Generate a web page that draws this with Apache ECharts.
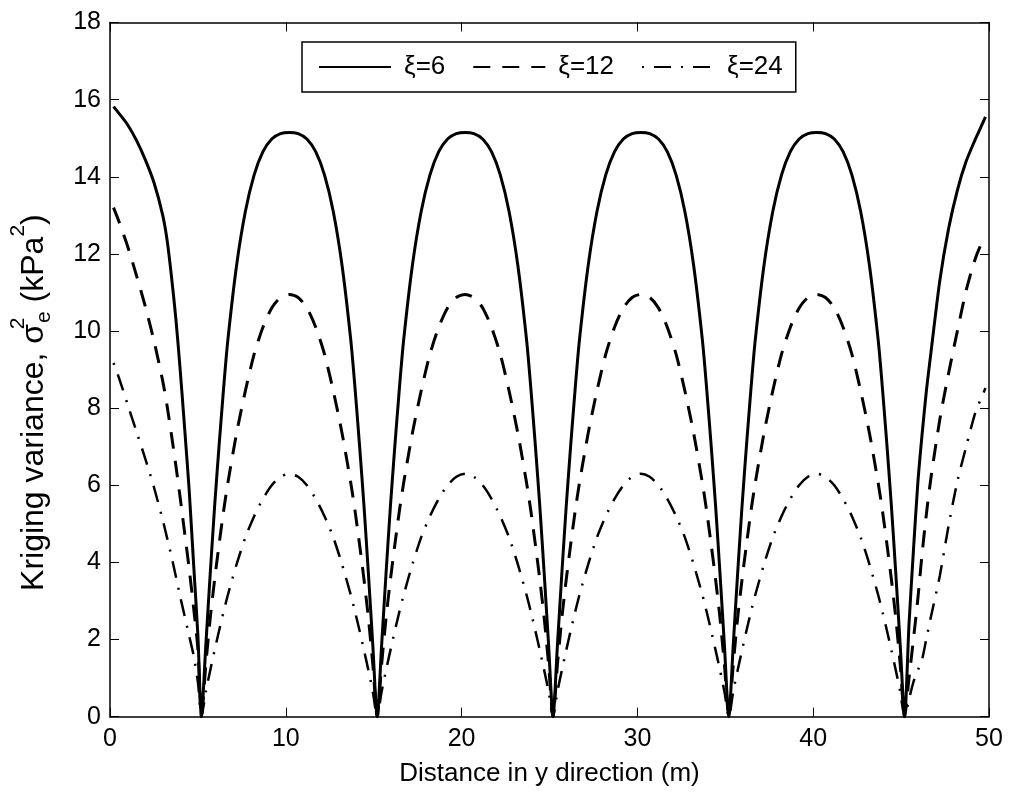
<!DOCTYPE html>
<html>
<head>
<meta charset="utf-8">
<title>Kriging variance</title>
<script src="https://cdn.jsdelivr.net/npm/echarts@6/dist/echarts.min.js"></script>
<style>
  html, body { margin: 0; padding: 0; background: #fff; }
  #chart { width: 1011px; height: 793px; }
</style>
</head>
<body>
<div id="chart"></div>
<script>
// distance in y direction (m)
var distance = [
  0.2, 0.5, 1, 1.5, 2, 2.5, 3, 3.25, 3.5, 3.75, 4, 4.25, 4.5, 4.75, 5, 5.2,
  5.45, 5.7, 5.95, 6.2, 6.45, 6.7, 7.2, 7.7, 8.2, 8.7, 9.2, 9.7, 10.2, 10.7, 11.2, 11.7, 12.2, 12.7, 13.2, 13.7, 13.95, 14.2, 14.45, 14.7, 14.95, 15.2,
  15.45, 15.7, 15.95, 16.2, 16.45, 16.7, 17.2, 17.7, 18.2, 18.7, 19.2, 19.7, 20.2, 20.7, 21.2, 21.7, 22.2, 22.7, 23.2, 23.7, 23.95, 24.2, 24.45, 24.7, 24.95, 25.2,
  25.45, 25.7, 25.95, 26.2, 26.45, 26.7, 27.2, 27.7, 28.2, 28.7, 29.2, 29.7, 30.2, 30.7, 31.2, 31.7, 32.2, 32.7, 33.2, 33.7, 33.95, 34.2, 34.45, 34.7, 34.95, 35.2,
  35.45, 35.7, 35.95, 36.2, 36.45, 36.7, 37.2, 37.7, 38.2, 38.7, 39.2, 39.7, 40.2, 40.7, 41.2, 41.7, 42.2, 42.7, 43.2, 43.7, 43.95, 44.2, 44.45, 44.7, 44.95, 45.2,
  45.45, 45.7, 45.95, 46.2, 46.45, 46.7, 47.2, 47.7, 48.2, 48.7, 49.2, 49.5, 49.8
]

// kriging variance for xi = 6
var var6 = [
  15.82, 15.65, 15.35, 14.95, 14.45, 13.85, 13.0, 12.35, 11.4, 10.3, 8.95, 7.45, 5.9, 4.0, 2.1, 0,
  1.85, 3.7, 5.45, 7.0, 8.45, 9.75, 11.7, 13.1, 14.05, 14.65, 14.98, 15.12, 15.15, 15.12, 14.98, 14.65, 14.05, 13.1, 11.7, 9.75, 8.45, 7.0, 5.45, 3.7, 1.85, 0,
  1.85, 3.7, 5.45, 7.0, 8.45, 9.75, 11.7, 13.1, 14.05, 14.65, 14.98, 15.12, 15.15, 15.12, 14.98, 14.65, 14.05, 13.1, 11.7, 9.75, 8.45, 7.0, 5.45, 3.7, 1.85, 0,
  1.85, 3.7, 5.45, 7.0, 8.45, 9.75, 11.7, 13.1, 14.05, 14.65, 14.98, 15.12, 15.15, 15.12, 14.98, 14.65, 14.05, 13.1, 11.7, 9.75, 8.45, 7.0, 5.45, 3.7, 1.85, 0,
  1.85, 3.7, 5.45, 7.0, 8.45, 9.75, 11.7, 13.1, 14.05, 14.65, 14.98, 15.12, 15.15, 15.12, 14.98, 14.65, 14.05, 13.1, 11.7, 9.75, 8.45, 7.0, 5.45, 3.7, 1.85, 0,
  2.4, 4.3, 6.05, 7.35, 8.5, 9.45, 11.3, 12.65, 13.65, 14.4, 14.95, 15.25, 15.55
]

// kriging variance for xi = 12
var var12 = [
  13.2, 12.85, 12.2, 11.45, 10.65, 9.75, 8.7, 8.05, 7.3, 6.5, 5.65, 4.75, 3.85, 2.85, 1.75, 0,
  1.35, 2.55, 3.55, 4.45, 5.3, 6.05, 7.35, 8.45, 9.4, 10.1, 10.6, 10.87, 10.95, 10.87, 10.6, 10.1, 9.4, 8.45, 7.35, 6.05, 5.3, 4.45, 3.55, 2.55, 1.35, 0,
  1.35, 2.55, 3.55, 4.45, 5.3, 6.05, 7.35, 8.45, 9.4, 10.1, 10.6, 10.87, 10.95, 10.87, 10.6, 10.1, 9.4, 8.45, 7.35, 6.05, 5.3, 4.45, 3.55, 2.55, 1.35, 0,
  1.35, 2.55, 3.55, 4.45, 5.3, 6.05, 7.35, 8.45, 9.4, 10.1, 10.6, 10.87, 10.95, 10.87, 10.6, 10.1, 9.4, 8.45, 7.35, 6.05, 5.3, 4.45, 3.55, 2.55, 1.35, 0,
  1.35, 2.55, 3.55, 4.45, 5.3, 6.05, 7.35, 8.45, 9.4, 10.1, 10.6, 10.87, 10.95, 10.87, 10.6, 10.1, 9.4, 8.45, 7.35, 6.05, 5.3, 4.45, 3.55, 2.55, 1.35, 0,
  1.0, 2.0, 3.05, 4.25, 5.3, 6.2, 7.7, 8.9, 10.0, 11.05, 11.85, 12.2, 12.45
]

// kriging variance for xi = 24
var var24 = [
  9.17, 8.8, 8.1, 7.4, 6.7, 5.95, 5.1, 4.63, 4.15, 3.63, 3.1, 2.6, 2.1, 1.6, 0.9, 0,
  0.65, 1.2, 1.72, 2.22, 2.7, 3.15, 3.95, 4.65, 5.2, 5.65, 6.0, 6.22, 6.3, 6.22, 6.0, 5.65, 5.2, 4.65, 3.95, 3.15, 2.7, 2.22, 1.72, 1.2, 0.65, 0,
  0.65, 1.2, 1.72, 2.22, 2.7, 3.15, 3.95, 4.65, 5.2, 5.65, 6.0, 6.22, 6.3, 6.22, 6.0, 5.65, 5.2, 4.65, 3.95, 3.15, 2.7, 2.22, 1.72, 1.2, 0.65, 0,
  0.65, 1.2, 1.72, 2.22, 2.7, 3.15, 3.95, 4.65, 5.2, 5.65, 6.0, 6.22, 6.3, 6.22, 6.0, 5.65, 5.2, 4.65, 3.95, 3.15, 2.7, 2.22, 1.72, 1.2, 0.65, 0,
  0.65, 1.2, 1.72, 2.22, 2.7, 3.15, 3.95, 4.65, 5.2, 5.65, 6.0, 6.22, 6.3, 6.22, 6.0, 5.65, 5.2, 4.65, 3.95, 3.15, 2.7, 2.22, 1.72, 1.2, 0.65, 0,
  0.45, 0.9, 1.2, 1.5, 2.05, 2.6, 3.65, 4.95, 6.1, 7.0, 7.85, 8.2, 8.52
]

var seriesNames = ['ξ=6', 'ξ=12', 'ξ=24']

function pairs(ys) {
  return distance.map(function (x, i) { return [x, ys[i]] })
}

var font = 'Liberation Sans, Arial, Helvetica, sans-serif'

function frameAxis(extra) {
  var a = {
    axisLine: { show: true, onZero: false, lineStyle: { color: '#000', width: 1.5 } },
    axisTick: { show: true, inside: true, length: 9, lineStyle: { color: '#000', width: 1 } },
    splitLine: { show: false }
  }
  for (var k in extra) a[k] = extra[k]
  return a
}

var chart = echarts.init(document.getElementById('chart'))

chart.setOption({
  animation: false,
  backgroundColor: '#fff',
  textStyle: { fontFamily: font, color: '#000' },
  grid: { left: 109, right: 22, top: 22.5, bottom: 76.3 },
  legend: {
    data: seriesNames,
    left: 302,
    top: 42,
    orient: 'horizontal',
    itemWidth: 72,
    itemHeight: 14,
    itemGap: 27,
    padding: [12, 13, 12, 16],
    borderColor: '#000',
    borderWidth: 1.5,
    borderRadius: 0,
    backgroundColor: '#fff',
    itemStyle: { opacity: 0 },
    textStyle: { fontFamily: font, fontSize: 26, color: '#000', padding: [0, 0, 0, 8] }
  },
  xAxis: [frameAxis({
    type: 'value',
    min: 0,
    max: 50,
    interval: 10,
    name: 'Distance in y direction (m)',
    nameLocation: 'middle',
    nameGap: 44,
    nameTextStyle: { fontFamily: font, fontSize: 26, color: '#000' },
    axisLabel: { fontFamily: font, fontSize: 25, color: '#000', margin: 10 }
  }), frameAxis({
    type: 'value',
    position: 'top',
    min: 0,
    max: 50,
    interval: 10,
    axisLabel: { show: false }
  })],
  yAxis: [frameAxis({
    type: 'value',
    min: 0,
    max: 18,
    interval: 2,
    name: '{a|Kriging variance, σ}{sup|2}{sub|e}{a| (kPa}{sup2|2}{end|)}',
    nameLocation: 'middle',
    nameRotate: 90,
    nameGap: 60,
    nameTextStyle: {
      fontFamily: font,
      color: '#000',
      rich: {
        a: { fontFamily: font, fontSize: 32, color: '#000', lineHeight: 42, verticalAlign: 'bottom' },
        end: { fontFamily: font, fontSize: 32, color: '#000', lineHeight: 42, verticalAlign: 'bottom', padding: [0, 66, 0, 0] },
        sup: { fontFamily: font, fontSize: 21, color: '#000', lineHeight: 42, verticalAlign: 'top', width: 1 },
        sub: { fontFamily: font, fontSize: 21, color: '#000', lineHeight: 42, verticalAlign: 'bottom', padding: [0, 0, -5, 0] },
        sup2: { fontFamily: font, fontSize: 21, color: '#000', lineHeight: 42, verticalAlign: 'top' }
      }
    },
    axisLabel: { fontFamily: font, fontSize: 25, color: '#000', margin: 9 }
  }), frameAxis({
    type: 'value',
    position: 'right',
    min: 0,
    max: 18,
    interval: 2,
    axisLabel: { show: false }
  })],
  series: [{
    name: seriesNames[0],
    type: 'line',
    data: pairs(var6),
    symbol: 'none',
    smooth: 0.25,
    lineStyle: { color: '#000', width: 3, type: 'solid' },
    itemStyle: { color: '#000' }
  }, {
    name: seriesNames[1],
    type: 'line',
    data: pairs(var12),
    symbol: 'none',
    smooth: 0.25,
    lineStyle: { color: '#000', width: 3, type: [17, 12] },
    itemStyle: { color: '#000' }
  }, {
    name: seriesNames[2],
    type: 'line',
    data: pairs(var24),
    symbol: 'none',
    smooth: 0.25,
    lineStyle: { color: '#000', width: 2.5, type: [17, 10, 2, 10], dashOffset: 27 },
    itemStyle: { color: '#000' }
  }]
})
</script>
</body>
</html>
